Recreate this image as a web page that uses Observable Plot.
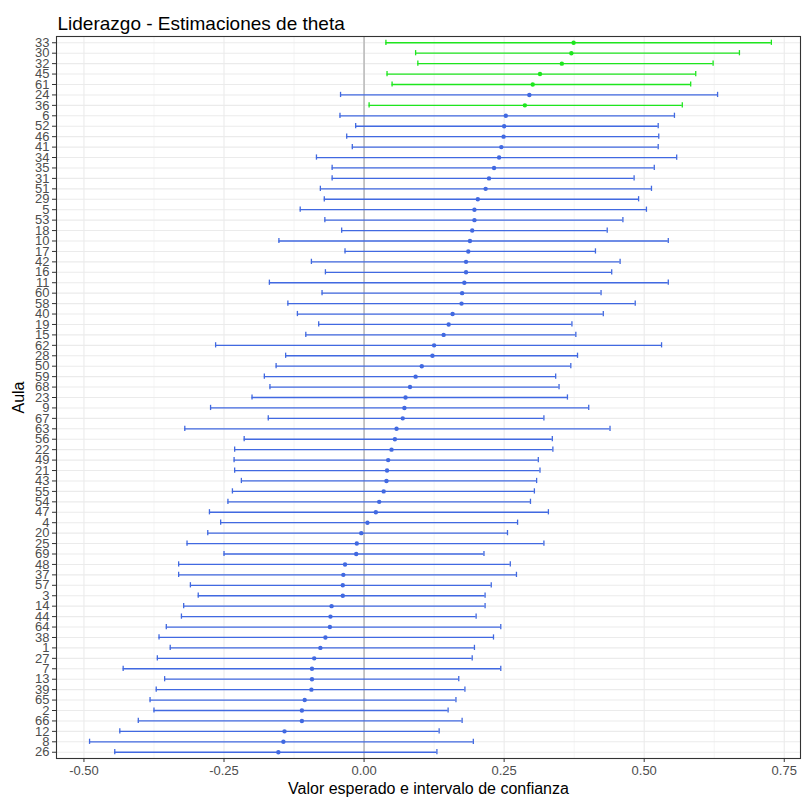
<!DOCTYPE html>
<html>
<head>
<meta charset="utf-8">
<script src="https://cdn.jsdelivr.net/npm/d3@7"></script>
<script src="https://cdn.jsdelivr.net/npm/@observablehq/plot@0.6"></script>
<style>
  body { margin: 0; background: #fff; }
  #chart svg { font-family: "Liberation Sans", Arial, sans-serif; }
</style>
</head>
<body>
<div id="chart"></div>
<script>
// Classrooms ordered by estimated theta (top = highest)
const aula = [33, 30, 32, 45, 61, 24, 36, 6, 52, 46, 41, 34, 35, 31, 51, 29, 5,
  53, 18, 10, 17, 42, 16, 11, 60, 58, 40, 19, 15, 62, 28, 50, 59, 68,
  23, 9, 67, 63, 56, 22, 49, 21, 43, 55, 54, 47, 4, 20, 25, 69, 48,
  37, 57, 3, 14, 44, 64, 38, 1, 27, 7, 13, 39, 65, 2, 66, 12, 8, 26];

const estimate = [0.374, 0.370, 0.353, 0.314, 0.301, 0.295, 0.287, 0.253, 0.250, 0.249, 0.245, 0.241, 0.232, 0.223, 0.217, 0.203, 0.197,
  0.197, 0.193, 0.189, 0.186, 0.182, 0.182, 0.179, 0.175, 0.174, 0.158, 0.151, 0.142, 0.125, 0.122, 0.103, 0.092, 0.082,
  0.074, 0.072, 0.069, 0.058, 0.055, 0.049, 0.043, 0.041, 0.040, 0.035, 0.027, 0.021, 0.006, -0.005, -0.013, -0.014, -0.034,
  -0.037, -0.038, -0.038, -0.058, -0.060, -0.061, -0.069, -0.078, -0.089, -0.093, -0.093, -0.094, -0.106, -0.111, -0.111, -0.142, -0.144, -0.153];

const lower = [0.039, 0.092, 0.096, 0.041, 0.050, -0.042, 0.009, -0.043, -0.015, -0.031, -0.021, -0.085, -0.057, -0.057, -0.078, -0.071, -0.114,
  -0.070, -0.040, -0.152, -0.034, -0.094, -0.069, -0.169, -0.075, -0.136, -0.119, -0.081, -0.104, -0.265, -0.140, -0.157, -0.178, -0.168,
  -0.200, -0.274, -0.171, -0.320, -0.214, -0.231, -0.232, -0.231, -0.219, -0.235, -0.243, -0.276, -0.256, -0.279, -0.316, -0.250, -0.331,
  -0.331, -0.310, -0.296, -0.322, -0.326, -0.353, -0.366, -0.346, -0.369, -0.430, -0.356, -0.371, -0.382, -0.375, -0.403, -0.436, -0.490, -0.445];

const upper = [0.727, 0.670, 0.623, 0.592, 0.583, 0.631, 0.568, 0.554, 0.525, 0.526, 0.525, 0.558, 0.518, 0.482, 0.513, 0.490, 0.504,
  0.462, 0.434, 0.543, 0.413, 0.457, 0.442, 0.543, 0.423, 0.484, 0.427, 0.371, 0.378, 0.531, 0.381, 0.369, 0.342, 0.348,
  0.363, 0.401, 0.321, 0.439, 0.336, 0.337, 0.311, 0.314, 0.308, 0.304, 0.297, 0.329, 0.274, 0.256, 0.321, 0.214, 0.261,
  0.272, 0.227, 0.216, 0.216, 0.200, 0.244, 0.231, 0.197, 0.193, 0.244, 0.169, 0.180, 0.164, 0.150, 0.175, 0.134, 0.195, 0.130];

const xTicks = [-0.5, -0.25, 0, 0.25, 0.5, 0.75];
const xMinor = [-0.375, -0.125, 0.125, 0.375, 0.625];

const rows = aula.map((a, i) => ({
  aula: String(a),
  est: estimate[i],
  lo: lower[i],
  hi: upper[i],
  sig: lower[i] > 0
}));

// Intervals entirely above zero are highlighted in green
const colorOf = d => d.sig ? "#1ee61e" : "#4169e1";
const lineW = 1.3;
const capInset = 2.6;

const chart = Plot.plot({
  width: 807,
  height: 808,
  marginLeft: 56,
  marginRight: 7,
  marginTop: 36,
  marginBottom: 50,
  style: { background: "#fff", fontFamily: "'Liberation Sans', Arial, sans-serif" },
  x: { domain: [-0.549, 0.779], label: null },
  y: { type: "band", domain: rows.map(d => d.aula), paddingInner: 0, paddingOuter: 0.1, round: false, label: null },
  marks: [
    // panel grid
    Plot.ruleX(xMinor, { stroke: "#ebebeb", strokeWidth: 0.55 }),
    Plot.ruleX(xTicks, { stroke: "#ebebeb", strokeWidth: 1.1 }),
    Plot.ruleY(rows, { y: "aula", stroke: "#ebebeb", strokeWidth: 1.1 }),
    // reference line at zero
    Plot.ruleX([0], { stroke: "#b4b4b4", strokeWidth: 1.4 }),
    // confidence intervals
    Plot.ruleY(rows, { y: "aula", x1: "lo", x2: "hi", stroke: colorOf, strokeWidth: lineW }),
    Plot.tickX(rows, { x: "lo", y: "aula", stroke: colorOf, strokeWidth: lineW, insetTop: capInset, insetBottom: capInset }),
    Plot.tickX(rows, { x: "hi", y: "aula", stroke: colorOf, strokeWidth: lineW, insetTop: capInset, insetBottom: capInset }),
    // expected values
    Plot.dot(rows, { x: "est", y: "aula", r: 2.2, fill: colorOf, stroke: null }),
    Plot.frame({ stroke: "#333333", strokeWidth: 1.1 }),
    // axes
    Plot.axisX({
      ticks: xTicks, tickFormat: d => d.toFixed(2), tickSize: 4, tickPadding: 3,
      stroke: "#333333", fill: "#4d4d4d", fontSize: 13, label: null
    }),
    Plot.axisY({
      tickSize: 4, tickPadding: 3, stroke: "#333333", fill: "#4d4d4d", fontSize: 13, label: null
    }),
    // titles
    Plot.text(["Liderazgo - Estimaciones de theta"], {
      frameAnchor: "top-left", dx: 1, dy: -20, fontSize: 19, fill: "#000", textAnchor: "start"
    }),
    Plot.text(["Valor esperado e intervalo de confianza"], {
      frameAnchor: "bottom", dy: 35, fontSize: 16, fill: "#000"
    }),
    Plot.text(["Aula"], {
      frameAnchor: "left", dx: -38, rotate: -90, fontSize: 16, fill: "#000", textAnchor: "middle"
    })
  ]
});

document.getElementById("chart").appendChild(chart);
</script>
</body>
</html>
